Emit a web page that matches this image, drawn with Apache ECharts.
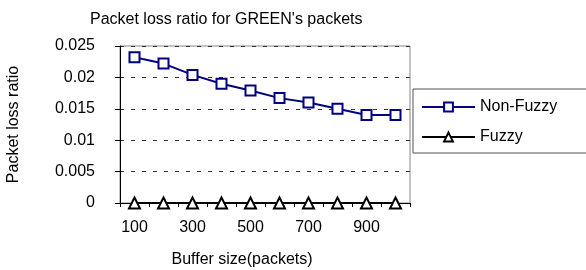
<!DOCTYPE html>
<html>
<head>
<meta charset="utf-8">
<script src="https://cdn.jsdelivr.net/npm/echarts@6/dist/echarts.min.js"></script>
<style>
  html, body { margin: 0; padding: 0; background: #fff; }
  #chart { width: 586px; height: 270px; }
</style>
</head>
<body>
<div id="chart"></div>
<script>
// buffer sizes (packets)
const bufferSizes = ['100', '200', '300', '400', '500', '600', '700', '800', '900', '1000']
// packet loss ratio
const nonFuzzy = [0.0232, 0.0222, 0.0204, 0.019, 0.0179, 0.0167, 0.016, 0.015, 0.014, 0.014]
const fuzzy = [0, 0, 0, 0, 0, 0, 0, 0, 0, 0]

const font = 'Liberation Sans, Arial, sans-serif'
const chart = echarts.init(document.getElementById('chart'))

const option = {
  animation: false,
  backgroundColor: '#fff',
  textStyle: { fontFamily: font },
  title: {
    text: "Packet loss ratio for GREEN's packets",
    left: 90,
    top: 12,
    padding: 0,
    textStyle: { fontFamily: font, fontSize: 16, fontWeight: 'normal', color: '#000' }
  },
  // 图例
  legend: {
    left: 413,
    top: 89,
    orient: 'vertical',
    itemWidth: 53,
    itemHeight: 11,
    itemGap: 14,
    padding: [10, 40, 8, 8],
    borderColor: '#555',
    borderWidth: 1,
    textStyle: { fontFamily: font, fontSize: 16, lineHeight: 16, color: '#000' },
    data: ['Non-Fuzzy', 'Fuzzy']
  },
  grid: {
    left: 120,
    right: 176,
    top: 46,
    bottom: 67,
    outerBoundsMode: 'none',
    show: true,
    borderColor: '#888',
    borderWidth: 1
  },
  xAxis: {
    type: 'category',
    data: bufferSizes,
    boundaryGap: true,
    name: 'Buffer size(packets)',
    nameLocation: 'middle',
    nameGap: 49,
    nameTextStyle: { fontFamily: font, fontSize: 16, color: '#000', padding: [0, 46, 0, 0] },
    axisLine: { lineStyle: { color: '#000', width: 1 } },
    axisTick: { show: true, interval: 0, length: 4, lineStyle: { color: '#000' } },
    axisLabel: { interval: 1, margin: 17, fontFamily: font, fontSize: 16, color: '#000' },
    splitLine: { show: false }
  },
  yAxis: {
    type: 'value',
    min: 0,
    max: 0.025,
    interval: 0.005,
    name: 'Packet loss ratio',
    nameLocation: 'middle',
    nameGap: 98,
    nameTextStyle: { fontFamily: font, fontSize: 16, color: '#000' },
    axisLine: { show: true, lineStyle: { color: '#000', width: 1 } },
    axisTick: { show: true, length: 5, lineStyle: { color: '#000' } },
    axisLabel: { margin: 25, fontFamily: font, fontSize: 16, color: '#000' },
    splitLine: { show: true, lineStyle: { color: '#333', type: [4, 7], width: 1 } }
  },
  series: [
    {
      name: 'Non-Fuzzy',
      type: 'line',
      data: nonFuzzy,
      symbol: 'rect',
      symbolSize: 10,
      color: '#000080',
      lineStyle: { color: '#000080', width: 2 },
      itemStyle: { color: '#fff', borderColor: '#000080', borderWidth: 2 }
    },
    {
      name: 'Fuzzy',
      type: 'line',
      data: fuzzy,
      symbol: 'triangle',
      symbolSize: 11,
      color: '#000',
      lineStyle: { color: '#000', width: 2 },
      itemStyle: { color: '#fff', borderColor: '#000', borderWidth: 2 }
    }
  ]
}
chart.setOption(option, true)
</script>
</body>
</html>
